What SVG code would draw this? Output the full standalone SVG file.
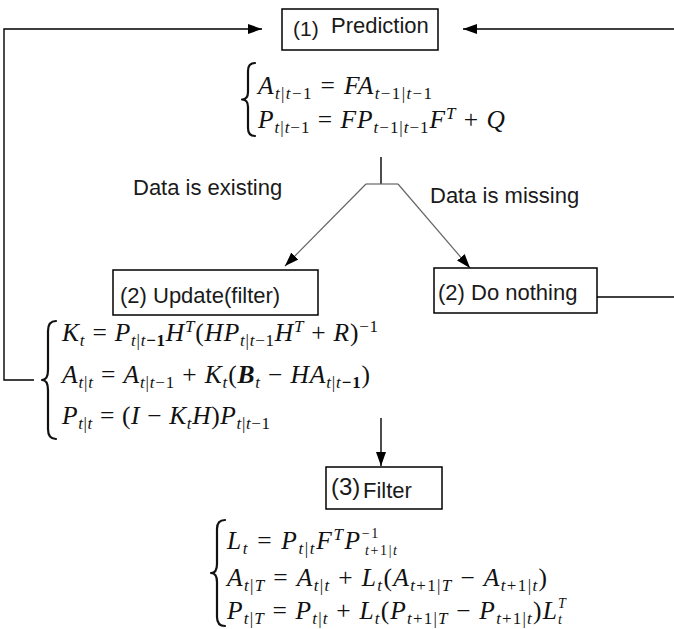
<svg xmlns="http://www.w3.org/2000/svg" width="674" height="629" viewBox="0 0 674 629">
<defs>
<marker id="ah" markerWidth="14" markerHeight="10" refX="14" refY="5" orient="auto" markerUnits="userSpaceOnUse">
<path d="M0,0 L14,5 L0,10 z" fill="#000"/>
</marker>
<style>
.box{fill:#fff;stroke:#000;stroke-width:1.5}
.lbl{font-family:"Liberation Sans",Arial,sans-serif;font-size:22px;fill:#1a1a1a}
.con{fill:none;stroke:#000;stroke-width:1.4}
.gray{fill:none;stroke:#666;stroke-width:1.2}
.brace{fill:none;stroke:#111;stroke-width:2.2;stroke-linejoin:round;stroke-linecap:round}
.m{font-family:"Liberation Serif","Times New Roman",serif;font-style:italic;font-size:25.5px;fill:#111}
.r{font-style:normal}
.s{font-size:17px}
.ss{font-size:14px}
.b{font-weight:bold}
</style>
</defs>

<g id="connectors">
<polyline class="con" points="34,380 4,380 4,29 262,29" marker-end="url(#ah)"/>
<line class="con" x1="674" y1="29" x2="463" y2="29" marker-end="url(#ah)"/>
<line class="con" x1="597" y1="297" x2="674" y2="297"/>
<line class="con" x1="381" y1="157" x2="381" y2="184"/>
<line class="gray" x1="366" y1="184" x2="398" y2="184"/>
<line class="gray" x1="366" y1="184" x2="285" y2="266" marker-end="url(#ah)"/>
<line class="gray" x1="398" y1="184" x2="470" y2="268" marker-end="url(#ah)"/>
<line class="con" x1="381" y1="418" x2="381" y2="466" marker-end="url(#ah)"/>
<text class="lbl" x="133" y="195">Data is existing</text>
<text class="lbl" x="430" y="203">Data is missing</text>
</g>

<g id="prediction">
<rect class="box" x="282" y="9" width="156" height="41"/>
<text class="lbl" x="293" y="36" style="font-size:21px">(1)</text>
<text class="lbl" x="331" y="33">Prediction</text>
<path class="brace" d="M255,63 Q248,63 248,71 L248,92 Q248,99.5 242,99.5 Q248,99.5 248,107 L248,128 Q248,136 255,136"/>
<text class="m" x="258" y="94" textLength="174" lengthAdjust="spacing">A<tspan class="s" dy="5">t<tspan class="r">|</tspan>t<tspan class="r">−1</tspan></tspan><tspan class="r" dy="-5"> = </tspan>FA<tspan class="s" dy="5">t<tspan class="r">−1|</tspan>t<tspan class="r">−1</tspan></tspan></text>
<text class="m" x="258" y="128" textLength="247" lengthAdjust="spacing">P<tspan class="s" dy="5">t<tspan class="r">|</tspan>t<tspan class="r">−1</tspan></tspan><tspan class="r" dy="-5"> = </tspan>FP<tspan class="s" dy="5">t<tspan class="r">−1|</tspan>t<tspan class="r">−1</tspan></tspan><tspan dy="-5">F</tspan><tspan class="s" dy="-9">T</tspan><tspan class="r" dy="9"> + </tspan>Q</text>
</g>

<g id="update">
<rect class="box" x="113" y="270" width="205" height="45"/>
<text class="lbl" x="120" y="303">(2) Update(filter)</text>
<path class="brace" d="M56,321 Q48,321 48,331 L48,370 Q48,380 42,380 Q48,380 48,390 L48,429 Q48,439 56,439"/>
<text class="m" x="62" y="341" textLength="316" lengthAdjust="spacing">K<tspan class="s" dy="5">t</tspan><tspan class="r" dy="-5"> = </tspan>P<tspan class="s" dy="5">t<tspan class="r">|</tspan>t<tspan class="r b">−1</tspan></tspan><tspan dy="-5">H</tspan><tspan class="s" dy="-9">T</tspan><tspan class="r" dy="9">(</tspan>HP<tspan class="s" dy="5">t<tspan class="r">|</tspan>t<tspan class="r">−1</tspan></tspan><tspan dy="-5">H</tspan><tspan class="s" dy="-9">T</tspan><tspan class="r" dy="9"> + </tspan>R<tspan class="r">)</tspan><tspan class="s r" dy="-9">−1</tspan></text>
<text class="m" x="62" y="383" textLength="308" lengthAdjust="spacing">A<tspan class="s" dy="5">t<tspan class="r">|</tspan>t</tspan><tspan class="r" dy="-5"> = </tspan>A<tspan class="s" dy="5">t<tspan class="r">|</tspan>t<tspan class="r">−1</tspan></tspan><tspan class="r" dy="-5"> + </tspan>K<tspan class="s" dy="5">t</tspan><tspan class="r" dy="-5">(</tspan><tspan class="b">B</tspan><tspan class="s" dy="5">t</tspan><tspan class="r" dy="-5"> − </tspan>HA<tspan class="s" dy="5">t<tspan class="r">|</tspan>t<tspan class="r b">−1</tspan></tspan><tspan class="r" dy="-5">)</tspan></text>
<text class="m" x="62" y="424" textLength="208" lengthAdjust="spacing">P<tspan class="s" dy="5">t<tspan class="r">|</tspan>t</tspan><tspan class="r" dy="-5"> = (</tspan>I<tspan class="r"> − </tspan>K<tspan class="s" dy="5">t</tspan><tspan dy="-5">H</tspan><tspan class="r">)</tspan>P<tspan class="s" dy="5">t<tspan class="r">|</tspan>t<tspan class="r">−1</tspan></tspan></text>
</g>

<g id="do-nothing">
<rect class="box" x="434" y="268" width="163" height="45"/>
<text class="lbl" x="438" y="300">(2) Do nothing</text>
</g>

<g id="filter">
<rect class="box" x="326" y="467" width="116" height="42"/>
<text class="lbl" x="331" y="495" style="font-size:24px">(3)</text>
<text class="lbl" x="363" y="498">Filter</text>
<path class="brace" d="M225,520 Q217,520 217,529 L217,564 Q217,573 211,573 Q217,573 217,582 L217,617 Q217,626 225,626"/>
<text class="m" x="227" y="549" textLength="170" lengthAdjust="spacing">L<tspan class="s" dy="5">t</tspan><tspan class="r" dy="-5"> = </tspan>P<tspan class="s" dy="5">t<tspan class="r">|</tspan>t</tspan><tspan dy="-5">F</tspan><tspan class="s" dy="-9">T</tspan><tspan dy="9">P</tspan><tspan class="ss r" dy="-11">−1</tspan><tspan class="ss" dx="-15" dy="17">t<tspan class="r">+1|</tspan>t</tspan></text>
<text class="m" x="227" y="586" textLength="320" lengthAdjust="spacing">A<tspan class="s" dy="5">t<tspan class="r">|</tspan>T</tspan><tspan class="r" dy="-5"> = </tspan>A<tspan class="s" dy="5">t<tspan class="r">|</tspan>t</tspan><tspan class="r" dy="-5"> + </tspan>L<tspan class="s" dy="5">t</tspan><tspan class="r" dy="-5">(</tspan>A<tspan class="s" dy="5">t<tspan class="r">+1|</tspan>T</tspan><tspan class="r" dy="-5"> − </tspan>A<tspan class="s" dy="5">t<tspan class="r">+1|</tspan>t</tspan><tspan class="r" dy="-5">)</tspan></text>
<text class="m" x="227" y="619" textLength="340" lengthAdjust="spacing">P<tspan class="s" dy="5">t<tspan class="r">|</tspan>T</tspan><tspan class="r" dy="-5"> = </tspan>P<tspan class="s" dy="5">t<tspan class="r">|</tspan>t</tspan><tspan class="r" dy="-5"> + </tspan>L<tspan class="s" dy="5">t</tspan><tspan class="r" dy="-5">(</tspan>P<tspan class="s" dy="5">t<tspan class="r">+1|</tspan>T</tspan><tspan class="r" dy="-5"> − </tspan>P<tspan class="s" dy="5">t<tspan class="r">+1|</tspan>t</tspan><tspan class="r" dy="-5">)</tspan>L<tspan class="ss" dy="-11">T</tspan><tspan class="ss" dx="-9" dy="16">t</tspan></text>
</g>
</svg>
